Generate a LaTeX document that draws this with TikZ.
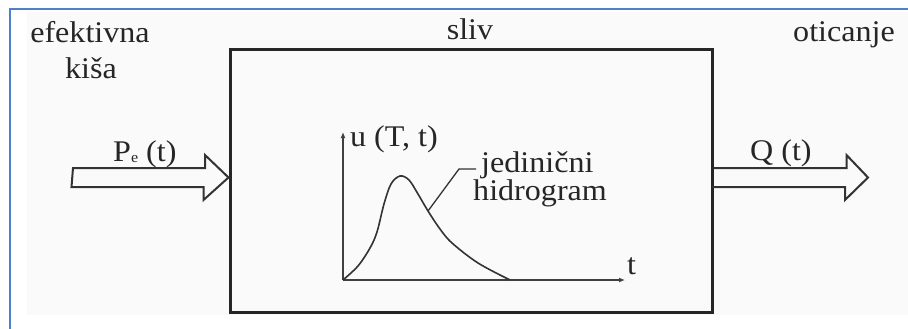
\documentclass[tikz,border=0pt]{standalone}
\usepackage{fontspec}
\setmainfont{Liberation Serif}[FakeStretch=1.07]
\usetikzlibrary{arrows.meta,calc}
\definecolor{framebl}{RGB}{79,129,201}
\begin{document}
\begin{tikzpicture}[x=1pt,y=-1pt,
  lbl/.style={font=\fontsize{30}{30}\selectfont, text=black!85, inner sep=0pt},
  blockarrow/.style={draw=black!80, line width=2pt, line join=miter},
  axis/.style={draw=black!75, line width=1.5pt, -{Latex[length=6pt,width=5pt]}},
  curve/.style={draw=black!80, line width=1.6pt},
  frame/.style={draw=framebl, line width=1.6pt},
]
\useasboundingbox (0,0) rectangle (908,329);
\fill[black!2] (27,12) rectangle (908,315);
\draw[frame] (10,329) -- (10,9) -- (908,9);
\node[draw=black!85, line width=3pt, minimum width=482pt, minimum height=262pt, inner sep=0pt] (box) at (471,181) {};

% labels
\node[lbl, anchor=base] (efk) at (90,43) {efektivna};
\node[lbl, anchor=base] (kisa) at (91,79) {kiša};
\node[lbl, anchor=base] (sliv) at (470,40) {sliv};
\node[lbl, anchor=base] (otic) at (844,42) {oticanje};
\node[lbl, anchor=base west] (pe) at (113,161) {P\raisebox{-1pt}{\fontsize{15}{15}\selectfont e} (t)};
\node[lbl, anchor=base west] (qt) at (750,160) {Q (t)};
\node[lbl, anchor=base west] (ut) at (350,146) {u (T, t)};
\node[lbl, anchor=base west] (jed) at (481,172) {jedinični};
\node[lbl, anchor=base west] (hid) at (473,200) {hidrogram};
\node[lbl, anchor=base west] (tl) at (627,274) {t};

% input arrow
\coordinate (pin) at (73,177.5);
\coordinate (tipin) at (box.west |- pin);
\draw[blockarrow] (pin) ++(0,-9.5) -- ++(132,0) -- ++(0,-13) -- (tipin)
  -- ++(-25,22.5) -- ++(0,-13) -- ++(-132,0) -- cycle;

% output arrow
\coordinate (tipout) at (868,177.5);
\coordinate (oin) at (box.east |- tipout);
\draw[blockarrow] (oin) ++(0,-9.5) -- ++(133,0) -- ++(0,-13) -- (tipout)
  -- ++(-23,22.5) -- ++(0,-13) -- ++(-133,0);

% graph
\coordinate (O) at (343,280);
\coordinate (ytop) at (343,132);
\coordinate (xend) at (625,280);
\draw[axis] (O) -- (ytop);
\draw[axis] (O) -- (xend);
\draw[curve] plot[smooth, tension=0.55] coordinates {(343,280) (358,266) (370,248) (377,232) (384,204) (391,184) (400,176) (409,180) (418,194) (428,211) (440,229) (452,243) (478,263) (510,280)};

% leader
\coordinate (lc) at (428,211);
\draw[curve, line width=1.3pt] (lc) -- (459,169) -- (476,169);
\end{tikzpicture}
\end{document}
